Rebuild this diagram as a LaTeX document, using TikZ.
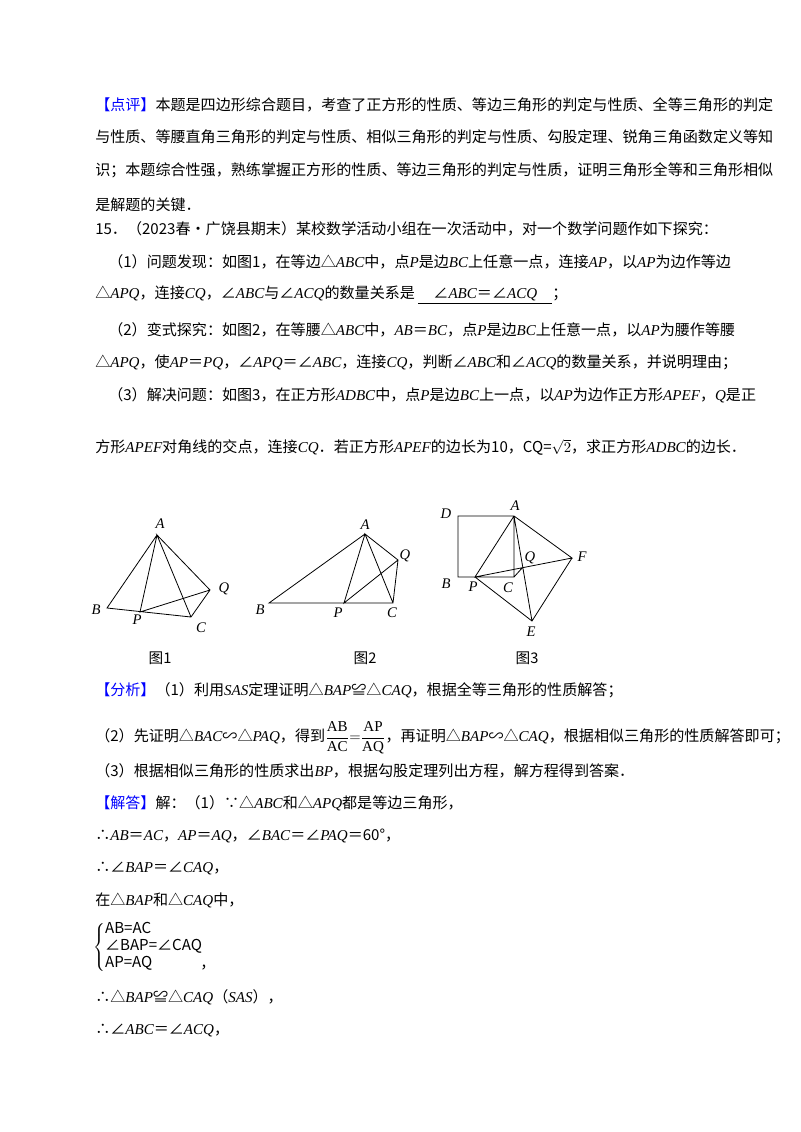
\documentclass[tikz,border=0pt]{standalone}
\usepackage{fontspec}
\setmainfont{Liberation Serif}
\newfontfamily\cjk{Noto Sans CJK SC}
\newcommand{\m}[1]{{\rmfamily\itshape #1}}
\newcommand{\bl}[1]{{\color{blue}#1}}
\begin{document}
\begin{tikzpicture}[x=0.75pt,y=-0.75pt,
  tx/.style={anchor=west,inner sep=0pt,font=\cjk\fontsize{11.3pt}{13pt}\selectfont},
  lb/.style={inner sep=0pt,font=\rmfamily\itshape\fontsize{11pt}{12pt}\selectfont},
  figcap/.style={inner sep=0pt,font=\cjk\fontsize{11pt}{13pt}\selectfont},
  ln/.style={line width=0.6pt}]
\fill[white] (0,0) rectangle (800,1132);
\useasboundingbox (0,0) rectangle (800,1132);

\node[tx] (t1) at (95,105) {\bl{【点评】}本题是四边形综合题目，考查了正方形的性质、等边三角形的判定与性质、全等三角形的判定};
\node[tx] (t2) at (95,137) {与性质、等腰直角三角形的判定与性质、相似三角形的判定与性质、勾股定理、锐角三角函数定义等知};
\node[tx] (t3) at (95,170) {识；本题综合性强，熟练掌握正方形的性质、等边三角形的判定与性质，证明三角形全等和三角形相似};
\node[tx] (t4) at (95,205) {是解题的关键．};
\node[tx] (t5) at (95,229) {15．（2023春•广饶县期末）某校数学活动小组在一次活动中，对一个数学问题作如下探究：};
\node[tx] (t6) at (108,262) {（1）问题发现：如图1，在等边△\m{ABC}中，点\m{P}是边\m{BC}上任意一点，连接\m{AP}，以\m{AP}为边作等边};
\node[tx] (t7) at (95,295) {△\m{APQ}，连接\m{CQ}，∠\m{ABC}与∠\m{ACQ}的数量关系是 \underline{\quad ∠\m{ABC}＝∠\m{ACQ}\quad}；};
\node[tx] (t8) at (108,330) {（2）变式探究：如图2，在等腰△\m{ABC}中，\m{AB}＝\m{BC}，点\m{P}是边\m{BC}上任意一点，以\m{AP}为腰作等腰};
\node[tx] (t9) at (95,362) {△\m{APQ}，使\m{AP}＝\m{PQ}，∠\m{APQ}＝∠\m{ABC}，连接\m{CQ}，判断∠\m{ABC}和∠\m{ACQ}的数量关系，并说明理由；};
\node[tx] (t10) at (108,395) {（3）解决问题：如图3，在正方形\m{ADBC}中，点\m{P}是边\m{BC}上一点，以\m{AP}为边作正方形\m{APEF}，\m{Q}是正};
\node[tx] (t11) at (95,447) {方形\m{APEF}对角线的交点，连接\m{CQ}．若正方形\m{APEF}的边长为10，CQ=$\sqrt{2}$，求正方形\m{ADBC}的边长．};

% Figure 1
\coordinate (A1) at (157,535); \coordinate (B1) at (107,608); \coordinate (P1) at (140,612);
\coordinate (C1) at (191,617); \coordinate (Q1) at (210,590);
\draw[ln] (A1)--(B1)--(C1)--(Q1)--(A1)--(C1) (A1)--(P1)--(Q1);
\node[lb] (lA1) at (160,524) {A}; \node[lb] (lB1) at (96,610) {B}; \node[lb] (lP1) at (137,620) {P};
\node[lb] (lC1) at (201,628) {C}; \node[lb] (lQ1) at (224,589) {Q};
\node[figcap] (c1) at (160,658) {图1};

% Figure 2
\coordinate (A2) at (365,534); \coordinate (B2) at (269,603); \coordinate (P2) at (344,603);
\coordinate (C2) at (393,603); \coordinate (Q2) at (398,560);
\draw[ln] (A2)--(B2)--(C2)--(Q2)--(A2)--(C2) (A2)--(P2)--(Q2);
\node[lb] (lA2) at (365,525) {A}; \node[lb] (lB2) at (260,610) {B}; \node[lb] (lP2) at (338,613) {P};
\node[lb] (lC2) at (392,613) {C}; \node[lb] (lQ2) at (405,556) {Q};
\node[figcap] (c2) at (365,658) {图2};

% Figure 3
\coordinate (A3) at (514,516); \coordinate (D3) at (458,516); \coordinate (B3) at (458,577);
\coordinate (C3) at (514,577); \coordinate (P3) at (475,577); \coordinate (F3) at (572,558);
\coordinate (E3) at (532,621); \coordinate (Q3) at (523,567);
\draw[ln] (A3)--(D3)--(B3)--(C3)--(A3) (A3)--(P3)--(F3)--(A3) (F3)--(E3)--(P3) (A3)--(E3) (Q3)--(C3);
\node[lb] (lA3) at (515,506) {A}; \node[lb] (lD3) at (446,514) {D}; \node[lb] (lB3) at (446,584) {B};
\node[lb] (lP3) at (473,587) {P}; \node[lb] (lC3) at (508,588) {C}; \node[lb] (lQ3) at (530,558) {Q};
\node[lb] (lF3) at (582,557) {F}; \node[lb] (lE3) at (531,632) {E};
\node[figcap] (c3) at (527,658) {图3};

\node[tx] (t12) at (95,690) {\bl{【分析】}（1）利用\m{SAS}定理证明△\m{BAP}≌△\m{CAQ}，根据全等三角形的性质解答；};
\node[tx] (t13) at (95,738) {（2）先证明△\m{BAC}∽△\m{PAQ}，得到$\displaystyle\frac{\mathrm{AB}}{\mathrm{AC}}{=}\frac{\mathrm{AP}}{\mathrm{AQ}}$，再证明△\m{BAP}∽△\m{CAQ}，根据相似三角形的性质解答即可；};
\node[tx] (t14) at (95,771) {（3）根据相似三角形的性质求出\m{BP}，根据勾股定理列出方程，解方程得到答案．};
\node[tx] (t15) at (95,803) {\bl{【解答】}解：（1）∵△\m{ABC}和△\m{APQ}都是等边三角形，};
\node[tx] (t16) at (95,836) {∴\m{AB}＝\m{AC}，\m{AP}＝\m{AQ}，∠\m{BAC}＝∠\m{PAQ}＝60°，};
\node[tx] (t17) at (95,868) {∴∠\m{BAP}＝∠\m{CAQ}，};
\node[tx] (t18) at (95,900) {在△\m{BAP}和△\m{CAQ}中，};
\node[tx] (t19) at (93,947) {\renewcommand\arraystretch{1.0}$\left\{\begin{array}{@{}l@{}}\mbox{AB=AC}\\ \mbox{∠BAP=∠CAQ}\\ \mbox{AP=AQ}\end{array}\right.$};
\node[tx] (t20) at (200,968) {，};
\node[tx] (t21) at (95,997) {∴△\m{BAP}≌△\m{CAQ}（\m{SAS}），};
\node[tx] (t22) at (95,1030) {∴∠\m{ABC}＝∠\m{ACQ}，};
\end{tikzpicture}
\end{document}
